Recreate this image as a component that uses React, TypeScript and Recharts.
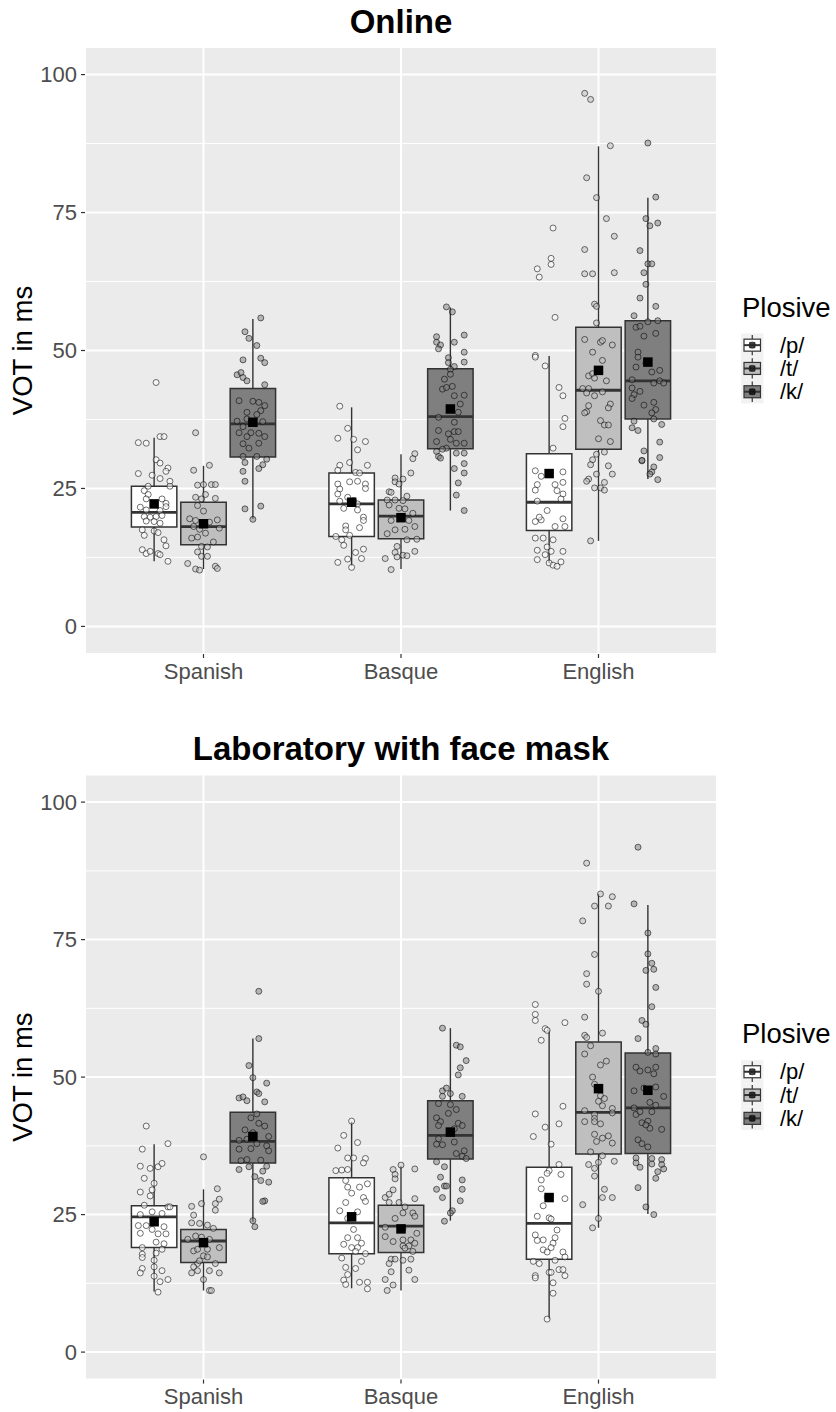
import React from 'react';
import {
  ComposedChart,
  XAxis,
  YAxis,
  CartesianGrid,
  ReferenceArea,
  ReferenceLine,
  Scatter,
} from 'recharts';

// ---------- categories / ticks ----------
const languages = ['Spanish', 'Basque', 'English'];
const plosives = ['/p/', '/t/', '/k/'];
const yTicks = [0, 25, 50, 75, 100];
const yMinorTicks = [12.5, 37.5, 62.5, 87.5];

// ---------- box statistics (order: Spanish p,t,k | Basque p,t,k | English p,t,k) ----------
const onlineLow = [11.8, 10.4, 19.5, 11.0, 10.4, 21.0, 11.5, 15.5, 26.7];
const onlineQ1 = [18.0, 14.8, 30.7, 16.3, 15.9, 32.2, 17.4, 32.1, 37.6];
const onlineMedian = [20.65, 18.1, 36.7, 22.2, 20.0, 38.0, 22.5, 42.8, 44.5];
const onlineQ3 = [25.4, 22.5, 43.1, 27.8, 22.9, 46.7, 31.3, 54.2, 55.4];
const onlineHigh = [34.2, 29.1, 55.7, 39.7, 31.2, 57.8, 49.0, 87.0, 77.7];
const onlineMean = [22.2, 18.6, 37.0, 22.5, 19.7, 39.4, 27.7, 46.4, 47.9];

const labLow = [11.0, 11.2, 23.7, 11.6, 11.2, 23.9, 6.0, 22.6, 25.1];
const labQ1 = [19.0, 16.3, 34.4, 17.9, 18.1, 35.1, 16.9, 36.0, 36.1];
const labMedian = [24.6, 20.2, 38.3, 23.5, 22.9, 39.4, 23.4, 43.6, 44.4];
const labQ3 = [26.6, 22.3, 43.6, 31.7, 26.7, 45.7, 33.6, 56.4, 54.4];
const labHigh = [37.8, 29.6, 57.0, 41.9, 33.8, 58.9, 58.5, 83.3, 81.3];
const labMean = [23.7, 19.9, 39.2, 24.6, 22.4, 40.0, 28.1, 47.9, 47.6];

// ---------- jittered observations: [jitter (category units), VOT ms] ----------
const onlineSpanishP = [[0.01,44.2],[-0.08,33.3],[-0.04,33.2],[0.03,34.4],[0.05,34.4],[0.01,30.2],[0.03,29.6],[0.07,28.7],[0.06,28.1],[-0.08,27.7],[-0.01,27.4],[0.03,26.8],[0.08,26.3],[-0.03,25.4],[0.08,25.4],[-0.05,24.6],[-0.03,23.9],[-0.04,23.1],[0.04,23.1],[0.06,22.3],[0.06,21.7],[-0.07,21.6],[-0.04,21.1],[0.03,21.0],[-0.05,19.9],[-0.02,19.8],[0.01,19.9],[0.04,20.1],[-0.04,19.1],[0.0,19.0],[0.03,18.7],[-0.06,17.5],[0.0,17.3],[-0.05,16.5],[0.02,17.0],[0.05,15.7],[0.06,14.6],[-0.06,13.9],[-0.04,13.2],[-0.02,13.6],[0.02,13.2],[0.03,13.0],[0.07,11.8]];
const onlineSpanishT = [[-0.04,35.1],[0.03,29.2],[-0.05,28.3],[-0.03,25.6],[0.0,25.7],[0.04,25.7],[0.06,25.7],[0.01,23.9],[-0.04,23.4],[-0.01,23.1],[0.06,23.2],[-0.03,21.9],[0.0,20.9],[-0.07,19.5],[-0.04,19.2],[0.07,19.3],[0.03,18.9],[-0.05,18.1],[-0.02,17.6],[0.08,17.8],[-0.06,16.0],[-0.03,16.2],[0.01,16.9],[0.05,15.3],[-0.01,14.5],[0.02,14.4],[-0.03,13.5],[-0.01,12.7],[0.02,12.7],[-0.08,11.4],[-0.04,10.4],[-0.02,10.2],[0.06,10.9],[0.07,10.5]];
const onlineSpanishK = [[0.04,55.9],[-0.04,53.4],[-0.02,52.2],[0.02,50.9],[-0.05,48.3],[0.04,48.6],[0.06,47.8],[-0.08,45.6],[-0.06,46.0],[-0.05,45.1],[-0.03,44.5],[0.06,43.8],[-0.07,40.9],[0.0,40.8],[0.03,40.6],[0.06,40.0],[0.04,39.1],[-0.03,38.8],[0.02,38.4],[-0.08,37.2],[-0.03,37.6],[0.05,37.1],[-0.05,36.2],[-0.01,35.1],[-0.07,35.1],[0.03,35.0],[-0.03,34.4],[0.06,34.4],[-0.05,33.1],[-0.02,32.3],[0.03,33.2],[-0.05,30.8],[0.02,30.8],[-0.04,29.7],[0.07,30.3],[0.05,29.3],[0.03,28.6],[-0.05,28.1],[-0.04,26.3],[-0.04,21.3],[0.04,21.8],[0.0,19.4]];
const onlineBasqueP = [[-0.06,39.9],[-0.02,35.9],[-0.07,34.1],[0.01,33.9],[0.07,33.5],[0.03,32.0],[0.08,29.2],[-0.06,29.2],[-0.01,29.7],[0.02,27.9],[-0.07,28.3],[0.04,27.8],[-0.07,25.8],[-0.01,26.2],[0.03,26.3],[0.07,25.8],[-0.06,24.9],[0.07,25.0],[-0.07,24.0],[-0.02,23.4],[0.01,22.8],[-0.06,22.7],[0.03,22.2],[-0.04,21.4],[0.03,21.1],[0.06,19.8],[0.06,19.2],[-0.03,18.2],[-0.03,17.5],[0.04,17.9],[-0.08,16.3],[-0.05,15.7],[-0.01,16.5],[-0.04,14.7],[0.06,14.0],[0.02,13.4],[0.05,12.3],[-0.02,12.2],[-0.07,11.6],[0.0,10.7]];
const onlineBasqueT = [[0.07,31.3],[0.06,30.4],[0.05,27.8],[-0.03,26.9],[-0.03,26.2],[0.01,26.7],[-0.06,24.4],[-0.05,24.3],[-0.01,25.8],[0.03,23.6],[-0.07,22.9],[-0.03,22.9],[0.01,22.8],[-0.06,22.0],[-0.01,21.4],[0.02,21.3],[0.06,20.5],[-0.05,19.2],[0.04,19.2],[0.07,18.1],[-0.03,17.5],[0.02,17.6],[-0.07,16.8],[0.03,15.7],[0.08,15.8],[-0.02,14.5],[-0.03,13.4],[0.01,12.9],[0.03,12.8],[0.07,13.6],[-0.08,12.3],[-0.02,12.6],[-0.05,10.3]];
const onlineBasqueK = [[-0.02,57.9],[0.01,57.0],[-0.07,52.5],[0.07,52.8],[-0.07,51.5],[-0.05,51.0],[-0.06,50.3],[0.02,51.5],[0.07,49.7],[0.07,47.9],[-0.01,48.7],[-0.01,47.8],[0.02,47.1],[0.0,46.6],[0.0,45.7],[-0.03,44.8],[0.01,43.5],[-0.04,43.0],[-0.02,43.3],[0.02,41.8],[0.07,41.9],[0.05,40.3],[-0.06,37.9],[0.04,38.8],[0.02,37.0],[-0.06,35.5],[-0.01,34.9],[0.02,35.3],[0.04,35.3],[0.0,33.9],[-0.07,33.5],[0.03,33.2],[0.07,33.2],[-0.02,32.3],[-0.07,31.7],[-0.04,32.1],[0.03,31.4],[0.07,31.4],[-0.06,30.8],[-0.05,30.5],[0.07,29.5],[0.02,28.6],[0.07,27.8],[0.04,26.0],[0.03,23.8],[0.07,21.0]];
const onlineEnglishP = [[0.02,72.2],[0.01,66.7],[0.01,65.6],[-0.06,64.8],[-0.05,63.3],[0.03,56.0],[-0.07,49.1],[-0.07,48.8],[-0.02,47.2],[0.05,43.3],[0.07,41.8],[0.08,37.7],[0.07,36.2],[0.02,32.3],[-0.07,28.2],[-0.04,27.2],[0.07,28.0],[0.07,26.1],[-0.06,25.7],[-0.07,24.7],[0.03,25.7],[0.04,24.6],[0.07,24.0],[0.06,23.1],[-0.06,22.7],[-0.01,21.0],[-0.04,19.3],[-0.07,19.0],[-0.05,19.8],[0.07,19.5],[0.03,18.1],[0.08,18.1],[-0.07,16.0],[-0.03,16.0],[0.02,15.7],[-0.01,14.4],[-0.06,13.8],[0.01,13.6],[0.07,13.6],[-0.06,12.1],[-0.02,13.0],[0.0,11.5],[0.02,11.1],[0.04,10.9],[0.06,11.7]];
const onlineEnglishT = [[-0.07,96.6],[-0.04,95.5],[0.06,87.1],[-0.06,81.3],[-0.01,77.7],[0.04,73.9],[0.08,70.7],[-0.07,68.3],[-0.07,63.9],[-0.03,63.9],[0.08,64.1],[-0.02,58.4],[-0.01,58.0],[-0.01,55.0],[-0.07,52.0],[0.01,51.5],[0.02,51.8],[0.07,51.0],[-0.03,49.7],[0.02,48.2],[-0.05,45.4],[-0.03,45.8],[-0.02,45.0],[0.04,44.5],[-0.08,43.1],[-0.05,43.1],[-0.06,42.3],[-0.02,41.8],[0.02,42.5],[-0.05,40.0],[0.06,40.3],[0.05,39.6],[-0.06,38.9],[-0.07,38.7],[0.01,37.3],[0.03,36.5],[0.05,36.5],[0.0,34.0],[0.06,33.5],[0.03,31.6],[-0.01,31.2],[-0.03,30.2],[-0.04,29.3],[0.05,29.1],[0.07,27.6],[-0.01,27.6],[-0.05,26.7],[-0.06,26.3],[0.03,26.1],[-0.02,25.1],[0.01,25.1],[0.03,24.7],[-0.04,15.5]];
const onlineEnglishK = [[0.0,87.6],[0.04,77.8],[-0.01,73.9],[0.01,72.6],[0.05,73.1],[-0.04,68.1],[0.0,65.7],[0.02,65.7],[-0.02,64.1],[-0.01,62.0],[-0.04,59.5],[0.04,58.0],[-0.07,56.3],[-0.06,54.2],[-0.04,54.4],[0.0,55.2],[0.05,55.4],[-0.02,52.6],[0.04,53.1],[-0.05,49.7],[-0.05,48.8],[-0.06,47.0],[-0.01,47.7],[0.02,46.1],[0.06,46.4],[-0.08,44.7],[0.03,44.1],[0.06,44.5],[0.08,44.1],[-0.08,43.2],[-0.04,42.6],[-0.07,42.0],[-0.08,41.3],[-0.02,40.1],[0.03,40.6],[0.04,39.3],[0.02,38.7],[0.03,37.6],[-0.07,37.2],[0.07,36.6],[-0.08,36.0],[-0.05,35.5],[0.06,33.4],[-0.02,31.8],[0.06,30.6],[-0.03,30.0],[-0.03,30.1],[0.03,28.9],[0.02,28.0],[0.01,27.6],[0.05,26.6]];

const labSpanishP = [[-0.04,41.1],[0.07,37.9],[-0.06,36.9],[-0.07,33.8],[-0.02,33.4],[0.02,33.7],[0.04,34.3],[-0.05,31.6],[0.0,30.7],[-0.07,29.1],[-0.01,29.5],[-0.02,28.4],[-0.05,26.7],[0.07,26.4],[-0.07,25.0],[-0.01,25.5],[0.04,25.2],[0.08,26.4],[-0.08,23.0],[-0.04,23.0],[0.05,22.8],[-0.07,21.6],[-0.01,22.3],[0.02,21.5],[0.06,21.5],[0.01,20.0],[0.05,19.7],[-0.06,19.0],[-0.06,17.8],[0.01,18.0],[0.04,18.7],[-0.06,17.2],[0.0,16.7],[0.0,15.5],[-0.06,15.2],[0.04,14.8],[-0.07,14.4],[0.0,13.8],[0.03,12.8],[0.07,13.2],[0.02,10.9]];
const labSpanishT = [[0.0,35.5],[0.07,29.7],[0.08,27.8],[0.06,27.0],[-0.01,27.0],[-0.06,26.5],[0.06,25.8],[-0.05,24.9],[-0.06,23.5],[-0.02,23.4],[0.02,23.1],[0.05,22.5],[-0.08,20.5],[-0.04,21.1],[-0.01,20.9],[0.03,20.5],[0.08,19.0],[-0.05,18.4],[-0.03,18.7],[0.02,18.7],[0.0,17.5],[0.02,17.3],[-0.03,16.1],[0.06,16.1],[-0.05,15.5],[-0.02,16.6],[-0.03,14.8],[0.03,14.8],[-0.06,14.4],[0.08,14.4],[0.0,13.2],[0.03,11.2],[0.04,11.2]];
const labSpanishK = [[0.03,65.6],[0.03,57.0],[-0.02,52.1],[0.0,49.9],[0.07,48.9],[0.02,47.3],[0.03,47.0],[-0.07,46.2],[-0.05,46.4],[-0.03,45.7],[0.06,45.5],[0.02,43.3],[-0.01,42.6],[0.03,41.6],[0.06,41.1],[-0.04,40.4],[0.0,39.9],[0.08,39.2],[-0.07,38.5],[-0.03,38.7],[0.02,37.9],[0.07,37.5],[-0.07,36.9],[-0.01,37.0],[0.08,36.6],[-0.03,35.0],[-0.06,34.8],[0.04,34.9],[0.07,33.8],[-0.02,33.7],[-0.07,33.2],[0.05,32.9],[0.01,31.9],[0.04,31.2],[0.08,30.9],[0.06,27.5],[0.05,27.4],[0.0,23.9],[0.01,22.8]];
const labBasqueP = [[0.0,42.0],[-0.04,39.4],[0.03,38.1],[-0.07,37.1],[-0.02,35.3],[0.01,35.3],[0.07,35.2],[0.06,34.4],[-0.08,33.0],[-0.05,33.1],[-0.02,33.2],[-0.03,31.2],[0.08,30.6],[0.04,30.0],[-0.02,30.0],[0.0,28.9],[0.06,28.1],[0.07,27.4],[-0.03,27.2],[-0.06,25.7],[0.03,25.5],[-0.02,24.3],[0.01,22.3],[-0.02,20.8],[0.03,20.8],[-0.04,19.6],[0.05,19.8],[0.0,19.0],[0.03,19.0],[0.07,17.9],[0.02,18.3],[-0.05,17.1],[0.05,16.5],[0.02,15.2],[-0.03,15.4],[-0.02,14.1],[-0.04,13.1],[0.04,12.7],[0.08,12.7],[-0.03,12.3],[0.08,11.5]];
const labBasqueT = [[0.0,34.0],[-0.04,33.2],[0.07,33.3],[-0.03,32.3],[-0.03,31.5],[-0.04,29.5],[-0.08,28.1],[-0.06,28.7],[0.07,27.9],[-0.01,27.2],[0.02,26.4],[-0.06,27.2],[0.01,25.3],[0.06,25.3],[-0.03,24.3],[0.07,24.7],[-0.08,22.7],[0.01,22.4],[0.08,21.6],[-0.08,21.0],[-0.04,20.1],[0.01,20.4],[0.05,20.4],[0.07,19.8],[0.01,19.3],[0.04,19.3],[0.02,18.9],[0.06,18.3],[-0.05,16.9],[-0.03,16.9],[0.01,16.7],[0.05,16.9],[-0.06,16.1],[0.04,14.9],[-0.05,14.6],[-0.08,13.2],[0.07,13.2],[-0.04,12.2],[-0.07,11.2]];
const labBasqueK = [[-0.04,58.9],[0.03,55.8],[0.05,55.5],[0.08,53.0],[0.05,51.7],[0.04,50.4],[-0.04,47.5],[-0.02,48.0],[-0.04,46.5],[0.06,46.5],[0.0,47.0],[-0.06,45.2],[0.0,45.0],[-0.01,43.4],[0.03,44.1],[-0.07,42.6],[-0.05,41.9],[0.04,41.6],[0.06,41.2],[-0.06,41.2],[0.02,40.6],[-0.06,38.8],[-0.04,37.7],[0.02,38.2],[-0.07,37.8],[0.07,36.6],[0.03,36.1],[0.06,35.6],[0.08,35.2],[-0.07,34.6],[-0.03,33.7],[-0.05,31.8],[0.06,31.3],[-0.03,30.2],[-0.02,30.2],[0.06,29.6],[-0.07,29.6],[-0.04,28.1],[0.05,27.5],[0.01,25.7],[0.0,25.3],[-0.03,23.8]];
const labEnglishP = [[-0.07,63.2],[-0.07,61.4],[-0.07,60.3],[-0.02,58.8],[-0.01,58.5],[0.08,59.9],[-0.04,56.7],[0.07,44.7],[-0.07,43.3],[0.05,41.5],[-0.02,40.9],[-0.08,39.2],[0.01,37.8],[0.05,34.1],[0.0,33.0],[-0.01,32.5],[-0.04,31.3],[0.06,32.3],[-0.04,29.7],[-0.01,28.2],[0.08,27.9],[-0.03,26.6],[-0.06,24.7],[0.0,24.4],[0.01,24.2],[0.04,22.2],[-0.07,21.3],[0.03,20.8],[-0.06,20.3],[-0.03,20.4],[0.02,19.8],[-0.03,18.6],[-0.01,18.2],[0.01,19.0],[0.07,18.2],[0.08,17.3],[0.03,16.7],[-0.08,16.5],[-0.05,16.1],[0.0,14.5],[0.01,14.5],[-0.07,13.9],[-0.07,13.5],[0.05,15.0],[0.07,15.0],[0.08,13.9],[0.02,12.6],[0.02,10.7],[-0.01,6.0]];
const labEnglishT = [[-0.06,88.9],[0.01,83.3],[0.07,82.8],[-0.02,81.1],[0.05,81.1],[-0.08,78.4],[-0.02,72.3],[-0.06,68.8],[-0.06,66.9],[0.0,65.6],[-0.07,60.9],[-0.07,57.6],[-0.06,57.2],[0.02,58.0],[-0.04,55.7],[-0.07,54.2],[0.04,52.9],[0.01,52.2],[-0.03,50.0],[-0.02,48.7],[0.01,46.6],[0.03,46.1],[0.0,45.6],[0.02,44.8],[-0.07,43.9],[0.07,44.3],[-0.02,43.2],[-0.02,42.5],[-0.07,41.9],[-0.02,41.9],[0.01,41.5],[0.07,43.5],[-0.02,39.6],[0.02,38.9],[-0.01,38.3],[0.05,39.3],[0.07,38.0],[-0.04,36.4],[0.02,35.7],[-0.05,34.1],[-0.02,33.4],[0.0,34.5],[0.08,34.7],[-0.02,32.0],[0.03,29.6],[0.02,28.1],[0.07,28.1],[-0.08,26.8],[0.0,24.3],[-0.03,22.6]];
const labEnglishK = [[-0.05,91.8],[-0.07,81.5],[0.0,76.2],[0.0,72.4],[0.02,70.7],[-0.01,69.4],[0.03,69.6],[0.04,66.3],[0.02,62.8],[-0.03,60.3],[-0.01,59.6],[-0.05,57.0],[0.0,54.5],[0.04,55.2],[0.04,54.2],[-0.06,51.8],[-0.04,51.1],[0.0,51.3],[0.04,51.8],[0.03,50.6],[-0.02,48.0],[0.04,48.2],[-0.07,47.5],[0.08,46.5],[0.01,45.4],[0.04,44.9],[-0.07,44.4],[0.02,43.7],[-0.06,43.2],[-0.04,43.7],[-0.03,41.7],[0.0,42.0],[0.01,40.7],[0.07,40.5],[-0.01,41.3],[-0.05,38.6],[-0.03,37.9],[0.0,37.3],[-0.06,35.3],[-0.06,34.4],[-0.04,33.6],[0.02,35.2],[0.02,34.2],[0.07,35.0],[0.07,34.1],[0.08,33.3],[0.05,32.8],[0.04,31.6],[-0.05,29.9],[-0.01,26.4],[0.03,25.0]];

// ---------- styling constants ----------
const FONT = '"Liberation Sans", Arial, Helvetica, sans-serif';
const plosiveFills = ['#FFFFFF', '#BFBFBF', '#7F7F7F'];
const dodge = [-0.25, 0, 0.25];
const halfBox = 0.115;
const LINE = '#333333';

type Stats = { low: number[]; q1: number[]; med: number[]; q3: number[]; high: number[]; mean: number[] };

const onlineStats: Stats = { low: onlineLow, q1: onlineQ1, med: onlineMedian, q3: onlineQ3, high: onlineHigh, mean: onlineMean };
const labStats: Stats = { low: labLow, q1: labQ1, med: labMedian, q3: labQ3, high: labHigh, mean: labMean };
const onlinePoints = [onlineSpanishP, onlineSpanishT, onlineSpanishK, onlineBasqueP, onlineBasqueT, onlineBasqueK, onlineEnglishP, onlineEnglishT, onlineEnglishK];
const labPoints = [labSpanishP, labSpanishT, labSpanishK, labBasqueP, labBasqueT, labBasqueK, labEnglishP, labEnglishT, labEnglishK];

const makeCircle = (fill: string) => (props: any) => {
  const { cx, cy } = props;
  if (cx == null || cy == null) return <g />;
  return (
    <circle cx={cx} cy={cy} r={3} fill={fill} fillOpacity={0.5} stroke="#000000" strokeOpacity={0.55} strokeWidth={1} />
  );
};

const meanSquare = (props: any) => {
  const { cx, cy } = props;
  if (cx == null || cy == null) return <g />;
  return <rect x={cx - 4.75} y={cy - 4.75} width={9.5} height={9.5} fill="#000000" />;
};

function LegendKey({ y, fill }: { y: number; fill: string }) {
  const x = 741;
  const w = 22.5;
  const h = 23.3;
  const cx = x + w / 2;
  const cy = y + h / 2;
  return (
    <g>
      <rect x={x} y={y} width={w} height={h} fill="#F2F2F2" />
      <line x1={cx} y1={y + 1.5} x2={cx} y2={cy - 6} stroke={LINE} strokeWidth={1.2} />
      <line x1={cx} y1={cy + 6} x2={cx} y2={y + h - 1.5} stroke={LINE} strokeWidth={1.2} />
      <rect x={x + 3} y={cy - 6} width={w - 6} height={12} fill={fill} stroke={LINE} strokeWidth={1.2} />
      <line x1={x + 3} y1={cy} x2={x + w - 3} y2={cy} stroke={LINE} strokeWidth={2} />
      <circle cx={cx} cy={cy} r={3.2} fill={fill} fillOpacity={0.5} stroke="#000" strokeOpacity={0.5} strokeWidth={1} />
      <rect x={cx - 3} y={cy - 3} width={6} height={6} fill="#000" fillOpacity={0.75} />
    </g>
  );
}

function Panel({
  title,
  stats,
  points,
  top,
  height,
  marginTop,
  marginBottom,
}: {
  title: string;
  stats: Stats;
  points: number[][][];
  top: number;
  height: number;
  marginTop: number;
  marginBottom: number;
}) {
  const centers: number[] = [];
  languages.forEach((_, li) => plosives.forEach((__, pi) => centers.push(li + 1 + dodge[pi])));

  const series = plosives.map((_, pi) => {
    const data: { x: number; y: number }[] = [];
    languages.forEach((__, li) => {
      const idx = li * 3 + pi;
      points[idx].forEach(([j, v]) => data.push({ x: centers[idx] + j, y: v }));
    });
    return data;
  });

  const meanData = centers.map((c, i) => ({ x: c, y: stats.mean[i] }));
  const plotBottom = height - marginBottom - 30;
  const midY = (marginTop + plotBottom) / 2;

  return (
    <div style={{ position: 'absolute', left: 0, top, width: 836, height }}>
      <ComposedChart width={836} height={height} margin={{ top: marginTop, right: 119, bottom: marginBottom, left: 0 }}>
        <CartesianGrid fill="#EBEBEB" stroke="#FFFFFF" strokeWidth={2} />
        <CartesianGrid
          horizontalValues={yMinorTicks}
          vertical={false}
          stroke="#FFFFFF"
          strokeWidth={1}
          fill="none"
        />
        <XAxis
          dataKey="x"
          type="number"
          domain={[0.4, 3.6]}
          ticks={[1, 2, 3]}
          interval={0}
          allowDataOverflow
          tickFormatter={(v: number) => languages[Math.round(v) - 1]}
          axisLine={false}
          tickLine={{ stroke: LINE, strokeWidth: 1.2 }}
          tickSize={4}
          tickMargin={5}
          height={30}
          tick={{ fill: '#4D4D4D', fontSize: 22, fontFamily: FONT }}
        />
        <YAxis
          dataKey="y"
          type="number"
          domain={[-5, 105]}
          ticks={yTicks}
          interval={0}
          allowDataOverflow
          width={85}
          axisLine={false}
          tickLine={{ stroke: LINE, strokeWidth: 1.2 }}
          tickSize={4}
          tickMargin={4}
          tick={{ fill: '#4D4D4D', fontSize: 22, fontFamily: FONT }}
        />
        {centers.map((c, i) => (
          <ReferenceLine
            key={'wl' + i}
            segment={[{ x: c, y: stats.low[i] }, { x: c, y: stats.q1[i] }]}
            stroke={LINE}
            strokeWidth={1.4}
          />
        ))}
        {centers.map((c, i) => (
          <ReferenceLine
            key={'wh' + i}
            segment={[{ x: c, y: stats.q3[i] }, { x: c, y: stats.high[i] }]}
            stroke={LINE}
            strokeWidth={1.4}
          />
        ))}
        {centers.map((c, i) => (
          <ReferenceArea
            key={'b' + i}
            x1={c - halfBox}
            x2={c + halfBox}
            y1={stats.q1[i]}
            y2={stats.q3[i]}
            fill={plosiveFills[i % 3]}
            fillOpacity={1}
            stroke={LINE}
            strokeWidth={1.5}
          />
        ))}
        {centers.map((c, i) => (
          <ReferenceLine
            key={'md' + i}
            segment={[{ x: c - halfBox, y: stats.med[i] }, { x: c + halfBox, y: stats.med[i] }]}
            stroke={LINE}
            strokeWidth={2.8}
          />
        ))}
        {series.map((data, pi) => (
          <Scatter
            key={'s' + pi}
            name={plosives[pi]}
            data={data}
            dataKey="y"
            isAnimationActive={false}
            shape={makeCircle(plosiveFills[pi])}
          />
        ))}
        <Scatter name="mean" data={meanData} dataKey="y" isAnimationActive={false} shape={meanSquare} />
      </ComposedChart>
      <svg
        width={836}
        height={height}
        style={{ position: 'absolute', left: 0, top: 0, pointerEvents: 'none' }}
      >
        <text x={401} y={33} textAnchor="middle" fontFamily={FONT} fontWeight="bold" fontSize={33} fill="#000">
          {title}
        </text>
        <text
          transform={`translate(32, ${midY}) rotate(-90)`}
          textAnchor="middle"
          fontFamily={FONT}
          fontSize={27.5}
          fill="#000"
        >
          VOT in ms
        </text>
        <text x={742} y={midY - 34} fontFamily={FONT} fontSize={27.5} fill="#000">
          Plosive
        </text>
        {plosives.map((p, pi) => {
          const ky = midY - 17 + pi * 23.3;
          return (
            <g key={p}>
              <LegendKey y={ky} fill={plosiveFills[pi]} />
              <text x={780} y={ky + 11.65 + 7.7} fontFamily={FONT} fontSize={22} fill="#000">
                {p}
              </text>
            </g>
          );
        })}
      </svg>
    </div>
  );
}

export default function App() {
  return (
    <div style={{ position: 'absolute', left: 0, top: 0, width: 836, height: 1412, background: '#FFFFFF' }}>
      <Panel title="Online" stats={onlineStats} points={onlinePoints} top={0} height={706} marginTop={47} marginBottom={22} />
      <Panel
        title="Laboratory with face mask"
        stats={labStats}
        points={labPoints}
        top={727}
        height={685}
        marginTop={47.6}
        marginBottom={2.4}
      />
    </div>
  );
}
